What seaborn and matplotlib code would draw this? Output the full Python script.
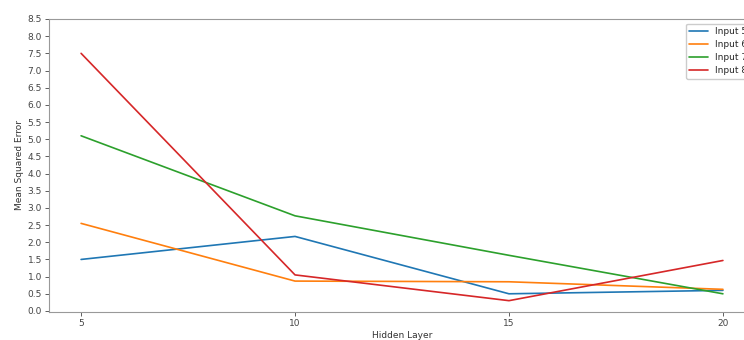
import matplotlib
matplotlib.use("Agg")
import matplotlib.pyplot as plt
import seaborn as sns
import pandas as pd
import numpy as np

hidden_layers = [5, 10, 15, 20]
series_names = ["Input 5", "Input 6", "Input 7", "Input 8"]
input5 = [1.5, 2.17, 0.5, 0.6]
input6 = [2.55, 0.87, 0.85, 0.63]
input7 = [5.1, 2.77, 1.62, 0.5]
input8 = [7.5, 1.05, 0.3, 1.47]
y_ticks = [i * 0.5 for i in range(18)]

rows = []
for name, vals in zip(series_names, [input5, input6, input7, input8]):
    for h, v in zip(hidden_layers, vals):
        rows.append({"Hidden Layer": h, "Mean Squared Error": v, "Series": name})
df = pd.DataFrame(rows)

sns.set_theme(style="ticks")
plt.rcParams['font.family'] = ['DejaVu Sans']

fig = plt.figure(figsize=(7.44, 3.4), dpi=100)
ax = fig.add_axes([49/744, 1 - 312/340, (755 - 49)/744, (312 - 19)/340])

sns.lineplot(data=df, x="Hidden Layer", y="Mean Squared Error", hue="Series",
             palette=sns.color_palette("tab10", 4), linewidth=1.2, ax=ax)

ax.set_xlim(4.25, 20.75)
ax.set_ylim(-0.03, 8.5)
ax.set_xticks(hidden_layers)
ax.set_yticks(y_ticks)
ax.set_yticklabels([f"{t:.1f}" for t in y_ticks])
ax.tick_params(labelsize=6.5, length=3, width=0.6, colors="#444444", pad=2)
for s in ax.spines.values():
    s.set_color("#999999")
    s.set_linewidth(0.8)
ax.set_xlabel("Hidden Layer", fontsize=6.5, color="#333333", labelpad=2)
ax.set_ylabel("Mean Squared Error", fontsize=6.5, color="#333333", labelpad=3)

leg = ax.legend(loc="upper right", fontsize=6.5, frameon=True, handlelength=2,
                borderpad=0.4, labelspacing=0.45, framealpha=1, fancybox=True,
                edgecolor="#cccccc")
leg.set_title(None)

fig.savefig("out.png", dpi=100)
